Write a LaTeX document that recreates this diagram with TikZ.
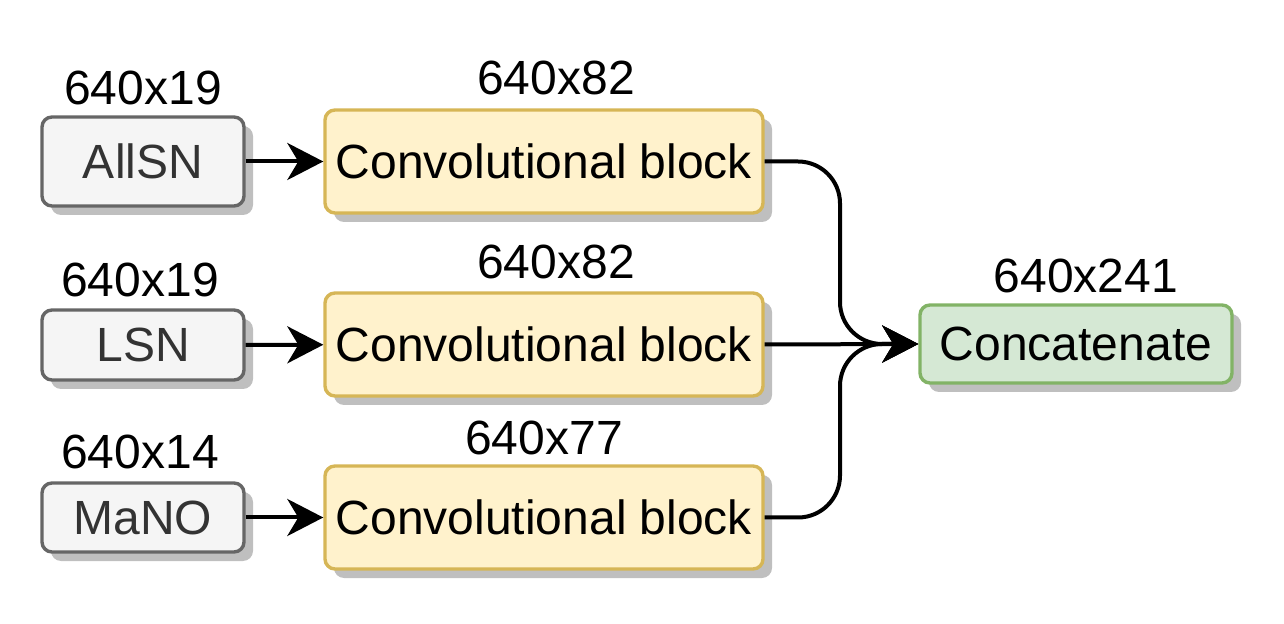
\documentclass[tikz,border=0pt]{standalone}
\usepackage{fontspec}
\setmainfont{Liberation Sans}
\usetikzlibrary{arrows.meta,shadows}
\definecolor{grayFill}{HTML}{F5F5F5}
\definecolor{grayLine}{HTML}{666666}
\definecolor{grayText}{HTML}{333333}
\definecolor{yelFill}{HTML}{FFF2CC}
\definecolor{yelLine}{HTML}{D6B656}
\definecolor{grnFill}{HTML}{D5E8D4}
\definecolor{grnLine}{HTML}{82B366}

\tikzset{
  box/.style={draw, line width=1.7pt, rounded corners=5pt, inner sep=0pt,
    drop shadow={shadow xshift=4.5pt, shadow yshift=-4.5pt, fill=black!25, opacity=1}},
  inbox/.style={box, fill=grayFill, draw=grayLine, text=grayText, minimum width=101pt},
  convbox/.style={box, fill=yelFill, draw=yelLine, minimum width=219pt, minimum height=51.5pt},
  catbox/.style={box, fill=grnFill, draw=grnLine, minimum width=156pt, minimum height=39pt},
  arr/.style={-{Stealth[length=18pt, width=18.5pt, inset=5.5pt]}, line width=2pt}
}

\begin{document}
\begin{tikzpicture}[x=0.5pt, y=-0.5pt, font=\fontsize{24}{28}\selectfont]

    \useasboundingbox (0, 0) rectangle (1284, 624);

    % inputs
    \node[inbox, minimum height=44.5pt] (allsn) at (143, 161.5) {AllSN};
    \node[inbox, minimum height=35pt] (lsn) at (143, 345) {LSN};
    \node[inbox, minimum height=34.5pt] (mano) at (143, 517.5) {MaNO};

    \node[] (allsnSize) at (143, 88) {640x19};
    \node[] (lsnSize) at (140, 280) {640x19};
    \node[] (manoSize) at (140, 452) {640x14};

    % convolutional blocks
    \node[convbox] (convA) at (544, 161.5) {Convolutional block};
    \node[convbox] (convB) at (544, 344.5) {Convolutional block};
    \node[convbox] (convC) at (544, 517.5) {Convolutional block};

    \node[] (convASize) at (556, 78) {640x82};
    \node[] (convBSize) at (556, 262) {640x82};
    \node[] (convCSize) at (544, 438) {640x77};

    % output
    \node[catbox] (concat) at (1076, 344) {Concatenate};
    \node[] (concatSize) at (1086, 276) {640x241};

    \draw[arr] (allsn) -- (convA);
    \draw[arr] (lsn) -- (convB);
    \draw[arr] (mano) -- (convC);

    \draw[arr] (convB.east) -- (concat.west);
    \draw[arr, rounded corners=21pt]
      (convA.east) -- (840, 161.5) -- (840, 344) -- (concat.west);
    \draw[arr, rounded corners=21pt]
      (convC.east) -- (840, 517.5) -- (840, 344) -- (concat.west);
  \end{tikzpicture}
\end{document}
